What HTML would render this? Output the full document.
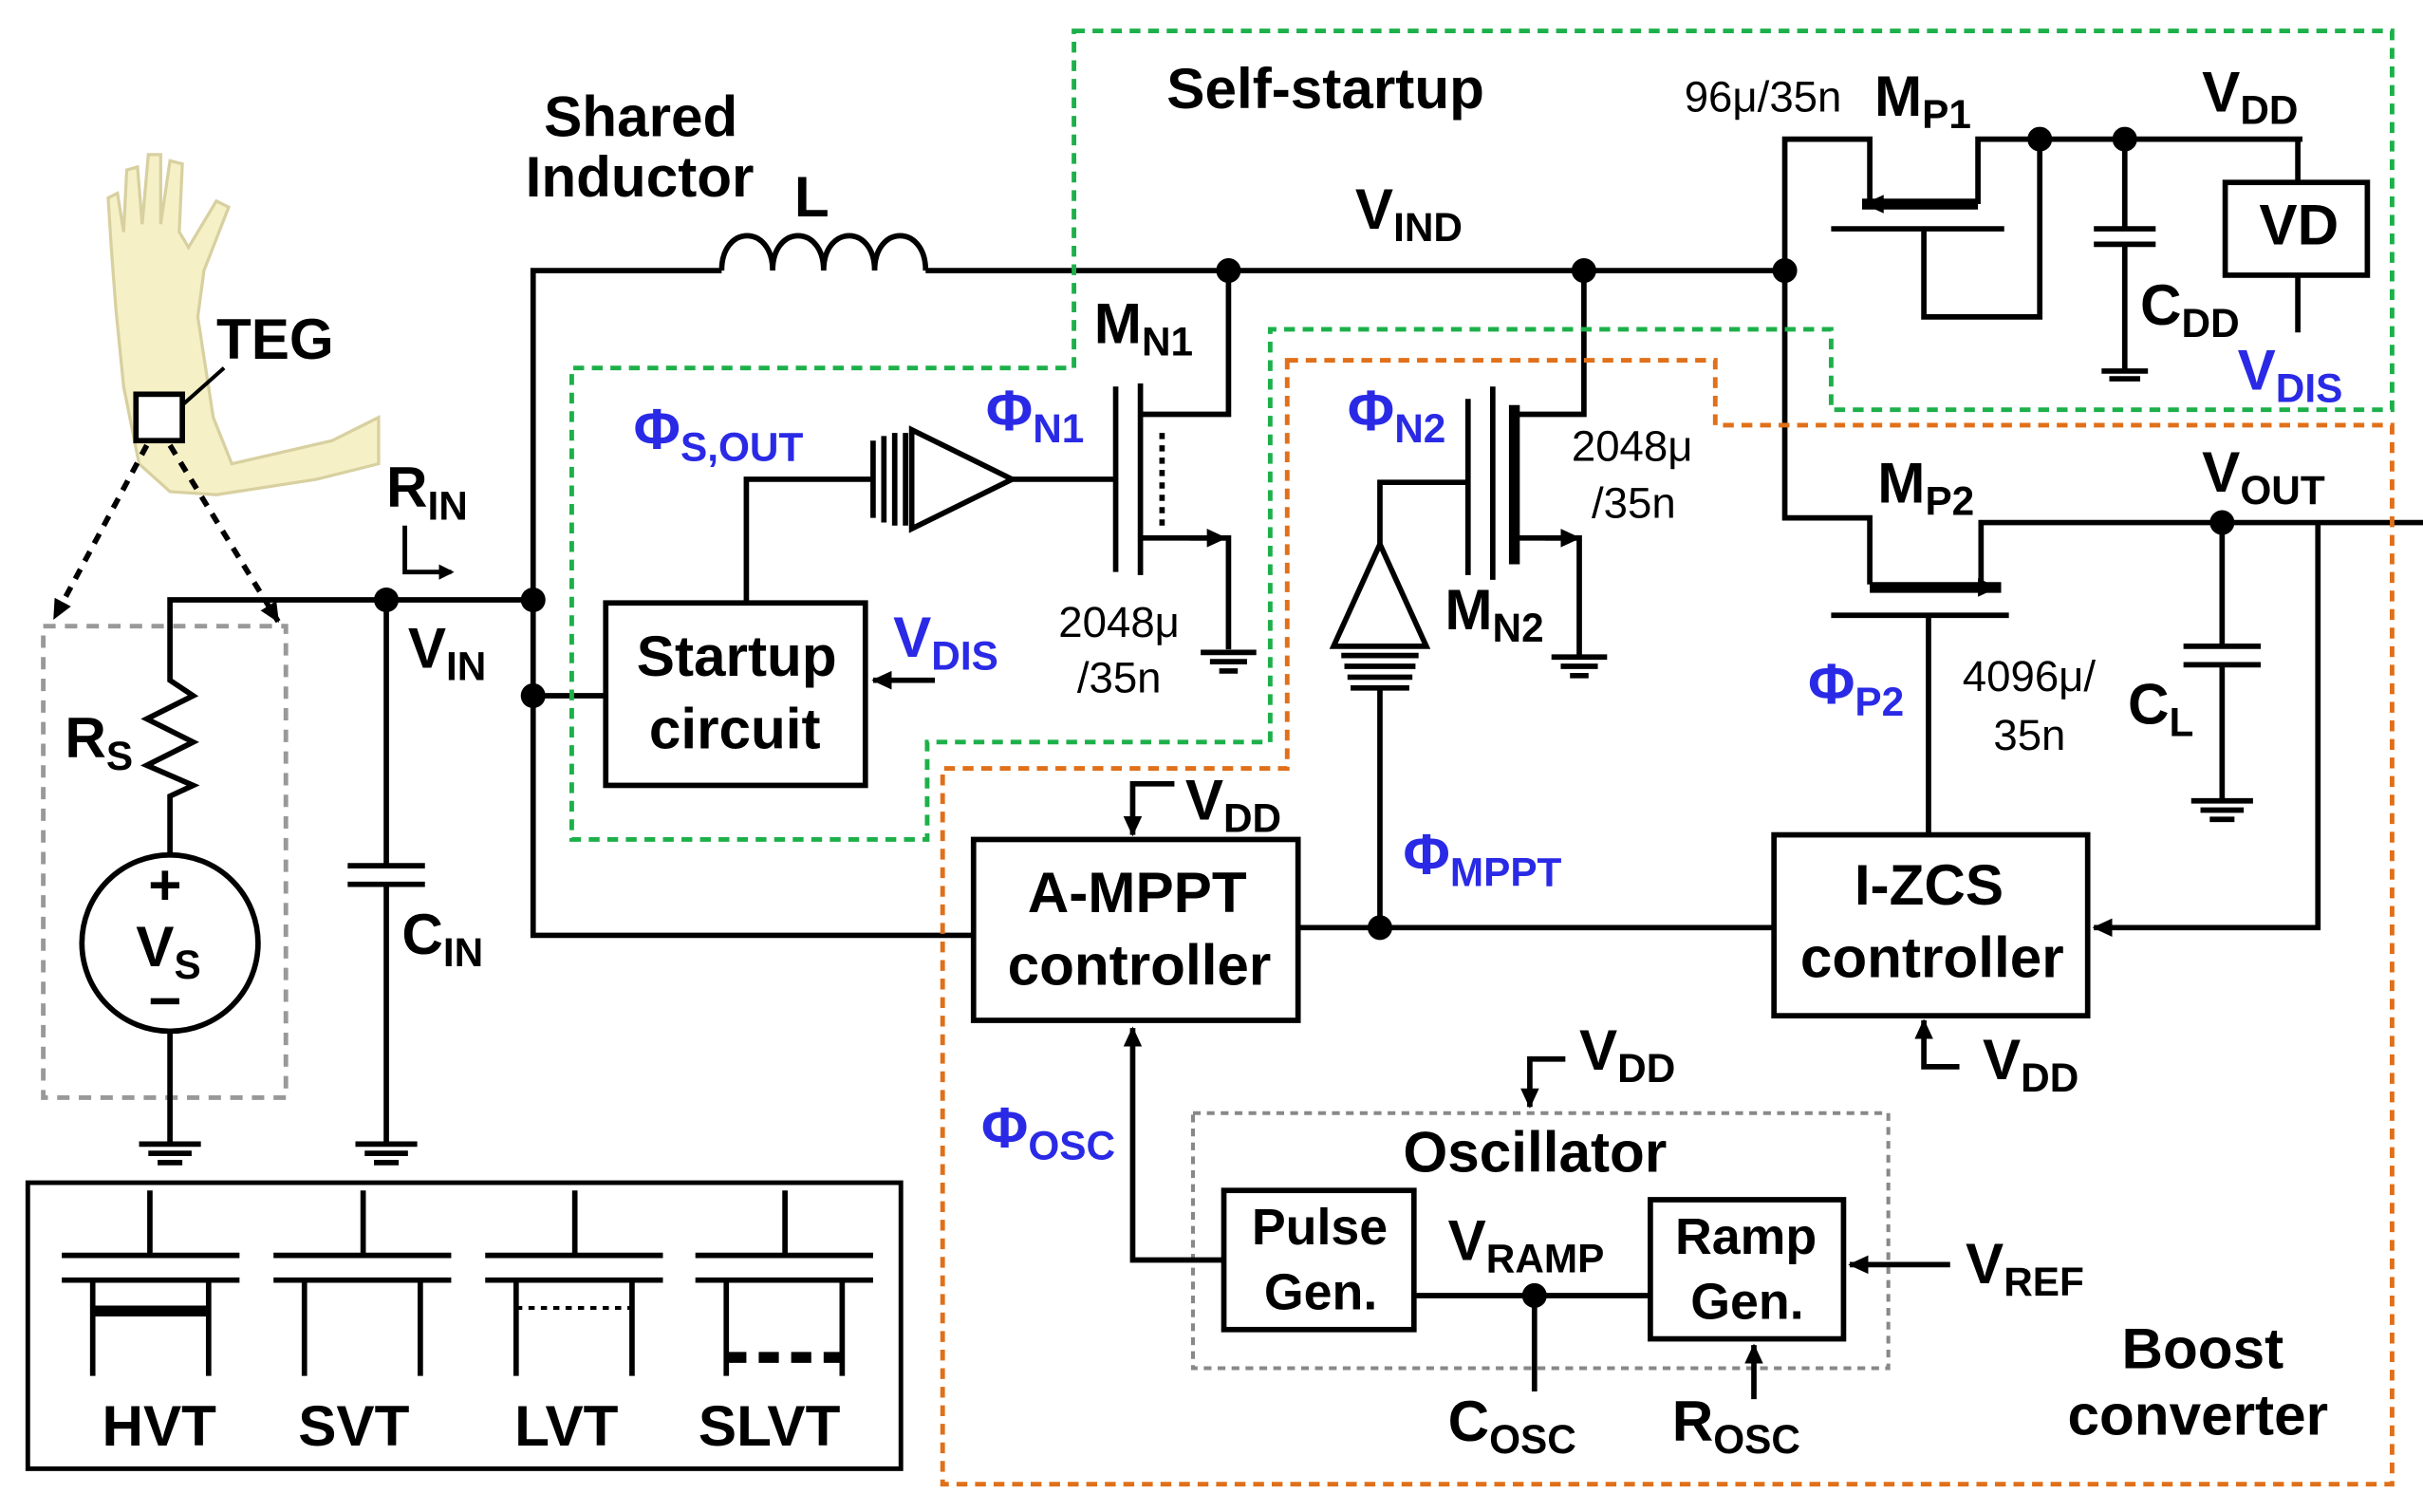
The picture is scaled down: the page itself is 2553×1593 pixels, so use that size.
<!DOCTYPE html>
<html><head><meta charset="utf-8"><style>
html,body{margin:0;padding:0;background:#fff}
svg{display:block}
text{font-family:"Liberation Sans",Arial,sans-serif;font-weight:bold;fill:#000}
.b{fill:#2a2ae6}
.n{font-weight:normal}
</style></head><body>
<svg width="2553" height="1593" viewBox="0 0 1568 978" preserveAspectRatio="none" xmlns="http://www.w3.org/2000/svg">
<defs>
<marker id="ar" markerWidth="10" markerHeight="10" refX="8" refY="5" orient="auto" markerUnits="userSpaceOnUse"><path d="M0,0 L10,5 L0,10 z" fill="#000"/></marker>
<marker id="arw" markerWidth="14" markerHeight="14" refX="12" refY="7" orient="auto" markerUnits="userSpaceOnUse"><path d="M0,1 L13,7 L0,13 z" fill="#000"/></marker>
</defs>
<g fill="none" stroke="#000" stroke-width="3.5">
<!-- arm -->
<path d="M72,160 L70,128 L76,125 L80,150 L82,110 L89,108 L92,145 L96,100 L104,100 L104,145 L110,104 L118,106 L116,150 L122,160 L140,130 L148,134 L132,175 L128,205 L138,270 L150,300 L215,285 L245,270 L245,300 L205,310 L140,320 L110,318 L90,300 L80,250 L75,200 Z" fill="#f5f0c6" stroke="#d8d0a0" stroke-width="2"/>
<rect x="88" y="255" width="30" height="30" fill="#fff"/>
<line x1="118" y1="262" x2="145" y2="238" stroke-width="2.5"/>
<line x1="95" y1="288" x2="35" y2="400" stroke-dasharray="7,6" marker-end="url(#arw)"/>
<line x1="110" y1="288" x2="180" y2="402" stroke-dasharray="7,6" marker-end="url(#arw)"/>
<rect x="28" y="405" width="157" height="305" stroke="#999" stroke-width="3" stroke-dasharray="8,6"/>
<polyline points="345,388 110,388 110,440 125,450 95,465 125,480 95,495 125,508 110,515 110,553"/>
<circle cx="110" cy="610" r="57"/>
<line x1="110" y1="667" x2="110" y2="740"/>
<line x1="90" y1="740" x2="130" y2="740"/><line x1="96" y1="746" x2="124" y2="746"/><line x1="102" y1="752" x2="118" y2="752"/>
<line x1="250" y1="388" x2="250" y2="560"/><line x1="225" y1="560" x2="275" y2="560"/><line x1="225" y1="572" x2="275" y2="572"/>
<line x1="250" y1="572" x2="250" y2="740"/>
<line x1="230" y1="740" x2="270" y2="740"/><line x1="236" y1="746" x2="264" y2="746"/><line x1="242" y1="752" x2="258" y2="752"/>
<polyline points="262,340 262,370 292,370" stroke-width="3" marker-end="url(#ar)"/>
<polyline points="630,605 345,605 345,175 467,175"/>
<path d="M467,175 C467,145 500,145 500,175 C500,145 533,145 533,175 C533,145 566,145 566,175 C566,145 599,145 599,175"/>
<line x1="599" y1="175" x2="1155" y2="175"/>
<line x1="345" y1="450" x2="392" y2="450"/>
<rect x="392" y="390" width="168" height="118"/>
<line x1="605" y1="440" x2="565" y2="440" marker-end="url(#arw)"/>
<polyline points="483,390 483,310 565,310"/>
<line x1="565" y1="285" x2="565" y2="335"/><line x1="572" y1="282" x2="572" y2="338"/><line x1="579" y1="280" x2="579" y2="340"/><line x1="586" y1="280" x2="586" y2="340"/>
<polygon points="590,278 655,310 590,342"/>
<line x1="655" y1="310" x2="722" y2="310"/>
<line x1="722" y1="250" x2="722" y2="370"/><line x1="738" y1="248" x2="738" y2="372"/>
<polyline points="738,268 795,268 795,175"/>
<polyline points="738,348 795,348 795,420"/>
<line x1="770" y1="348" x2="793" y2="348" marker-end="url(#arw)"/>
<line x1="752" y1="280" x2="752" y2="340" stroke-dasharray="4,4"/>
<line x1="777" y1="422" x2="813" y2="422"/><line x1="783" y1="428" x2="807" y2="428"/><line x1="789" y1="434" x2="801" y2="434"/>
<line x1="950" y1="258" x2="950" y2="372"/><line x1="966" y1="250" x2="966" y2="375"/><line x1="980" y1="262" x2="980" y2="365" stroke-width="7"/>
<polyline points="980,268 1025,268 1025,175"/>
<polyline points="980,348 1022,348 1022,425"/>
<line x1="1000" y1="348" x2="1022" y2="348" marker-end="url(#arw)"/>
<line x1="1004" y1="425" x2="1040" y2="425"/><line x1="1010" y1="431" x2="1034" y2="431"/><line x1="1016" y1="437" x2="1028" y2="437"/>
<polyline points="950,312 893,312 893,352"/>
<polygon points="893,352 863,418 923,418"/>
<line x1="868" y1="424" x2="918" y2="424"/><line x1="870" y1="431" x2="916" y2="431"/><line x1="872" y1="438" x2="914" y2="438"/><line x1="874" y1="445" x2="912" y2="445"/>
<line x1="893" y1="445" x2="893" y2="600"/>
<rect x="630" y="543" width="210" height="117"/>
<rect x="1148" y="540" width="203" height="117"/>
<line x1="840" y1="600" x2="1148" y2="600"/>
<polyline points="760,507 733,507 733,540" marker-end="url(#arw)"/>
<polyline points="1268,690 1245,690 1245,660" marker-end="url(#arw)"/>
<polyline points="1155,175 1155,90 1210,90 1210,135"/>
<line x1="1205" y1="132" x2="1280" y2="132" stroke-width="7"/>
<line x1="1185" y1="148" x2="1297" y2="148"/>
<polyline points="1280,132 1280,90 1490,90"/>
<line x1="1230" y1="132" x2="1207" y2="132" marker-end="url(#arw)"/>
<polyline points="1245,148 1245,205 1320,205 1320,90"/>
<line x1="1375" y1="90" x2="1375" y2="148"/><line x1="1355" y1="148" x2="1395" y2="148"/><line x1="1355" y1="158" x2="1395" y2="158"/>
<line x1="1375" y1="158" x2="1375" y2="240"/>
<line x1="1360" y1="240" x2="1390" y2="240"/><line x1="1365" y1="245" x2="1385" y2="245"/>
<rect x="1440" y="118" width="92" height="60"/>
<line x1="1487" y1="90" x2="1487" y2="118"/><line x1="1487" y1="178" x2="1487" y2="215"/>
<polyline points="1155,175 1155,335 1210,335 1210,378"/>
<line x1="1210" y1="380" x2="1295" y2="380" stroke-width="7"/>
<line x1="1185" y1="398" x2="1300" y2="398"/>
<polyline points="1282,380 1282,338 1568,338"/>
<line x1="1260" y1="380" x2="1292" y2="380" marker-end="url(#arw)"/>
<line x1="1248" y1="398" x2="1248" y2="540"/>
<line x1="1438" y1="338" x2="1438" y2="418"/><line x1="1413" y1="418" x2="1463" y2="418"/><line x1="1413" y1="430" x2="1463" y2="430"/>
<line x1="1438" y1="430" x2="1438" y2="518"/>
<line x1="1418" y1="518" x2="1458" y2="518"/><line x1="1424" y1="524" x2="1452" y2="524"/><line x1="1430" y1="530" x2="1446" y2="530"/>
<polyline points="1500,338 1500,600 1355,600" marker-end="url(#arw)"/>
<rect x="772" y="720" width="450" height="165" stroke="#888" stroke-width="2.5" stroke-dasharray="5,4"/>
<polyline points="1013,685 990,685 990,716" marker-end="url(#arw)"/>
<rect x="792" y="770" width="123" height="90"/>
<rect x="1068" y="776" width="125" height="90"/>
<line x1="915" y1="838" x2="1068" y2="838"/>
<line x1="993" y1="838" x2="993" y2="900"/>
<line x1="1262" y1="818" x2="1197" y2="818" marker-end="url(#arw)"/>
<line x1="1135" y1="905" x2="1135" y2="870" marker-end="url(#arw)"/>
<polyline points="792,815 733,815 733,665" marker-end="url(#arw)"/>
<polygon points="695,20 1548,20 1548,265 1185,265 1185,213 822,213 822,480 600,480 600,543 370,543 370,238 695,238" stroke="#1db04a" stroke-width="3" stroke-dasharray="7,5"/>
<polygon points="833,233 1110,233 1110,275 1548,275 1548,960 610,960 610,497 833,497" stroke="#e0701a" stroke-width="3" stroke-dasharray="7,5"/>
<rect x="18" y="765" width="565" height="185" stroke-width="3"/>
<g>
<line x1="97" y1="770" x2="97" y2="812"/><line x1="40" y1="812" x2="155" y2="812"/><line x1="40" y1="828" x2="155" y2="828"/>
<line x1="60" y1="828" x2="60" y2="890"/><line x1="135" y1="828" x2="135" y2="890"/><line x1="60" y1="848" x2="135" y2="848" stroke-width="7"/>
<line x1="235" y1="770" x2="235" y2="812"/><line x1="177" y1="812" x2="292" y2="812"/><line x1="177" y1="828" x2="292" y2="828"/>
<line x1="197" y1="828" x2="197" y2="890"/><line x1="272" y1="828" x2="272" y2="890"/>
<line x1="372" y1="770" x2="372" y2="812"/><line x1="314" y1="812" x2="429" y2="812"/><line x1="314" y1="828" x2="429" y2="828"/>
<line x1="334" y1="828" x2="334" y2="890"/><line x1="409" y1="828" x2="409" y2="890"/><line x1="334" y1="846" x2="409" y2="846" stroke-width="2.5" stroke-dasharray="4,4"/>
<line x1="508" y1="770" x2="508" y2="812"/><line x1="450" y1="812" x2="565" y2="812"/><line x1="450" y1="828" x2="565" y2="828"/>
<line x1="470" y1="828" x2="470" y2="890"/><line x1="545" y1="828" x2="545" y2="890"/><line x1="470" y1="878" x2="545" y2="878" stroke-width="7" stroke-dasharray="13,8"/>
</g>
</g>
<g fill="#000">
<circle cx="250" cy="388" r="8"/><circle cx="345" cy="388" r="8"/><circle cx="345" cy="450" r="8"/>
<circle cx="795" cy="175" r="8"/><circle cx="1025" cy="175" r="8"/><circle cx="1155" cy="175" r="8"/>
<circle cx="1320" cy="90" r="8"/><circle cx="1375" cy="90" r="8"/><circle cx="1438" cy="338" r="8"/>
<circle cx="893" cy="600" r="8"/><circle cx="993" cy="838" r="8"/>
</g>
<g font-size="37">
<text x="140" y="232">TEG</text>
<text x="352" y="88">Shared</text><text x="340" y="127">Inductor</text>
<text x="514" y="140">L</text>
<text x="755" y="70">Self-startup</text>
<text x="250" y="328">R<tspan font-size="26" dy="8">IN</tspan></text>
<text x="264" y="432">V<tspan font-size="26" dy="8">IN</tspan></text>
<text x="42" y="490">R<tspan font-size="26" dy="8">S</tspan></text>
<text x="96" y="585">+</text>
<text x="88" y="625">V<tspan font-size="26" dy="8">S</tspan></text>
<text x="96" y="660">−</text>
<text x="260" y="617">C<tspan font-size="26" dy="8">IN</tspan></text>
<text x="412" y="437">Startup</text><text x="420" y="484">circuit</text>
<text class="b" x="578" y="425">V<tspan font-size="26" dy="8">DIS</tspan></text>
<text class="b" x="410" y="290">Φ<tspan font-size="26" dy="8">S,OUT</tspan></text>
<text class="b" x="638" y="278">Φ<tspan font-size="26" dy="8">N1</tspan></text>
<text x="708" y="222">M<tspan font-size="26" dy="8">N1</tspan></text>
<text class="b" x="872" y="278">Φ<tspan font-size="26" dy="8">N2</tspan></text>
<text x="935" y="407">M<tspan font-size="26" dy="8">N2</tspan></text>
<text x="877" y="148">V<tspan font-size="26" dy="8">IND</tspan></text>
<text x="1213" y="75">M<tspan font-size="26" dy="8">P1</tspan></text>
<text x="1425" y="72">V<tspan font-size="26" dy="8">DD</tspan></text>
<text x="1462" y="158">VD</text>
<text x="1385" y="210">C<tspan font-size="26" dy="8">DD</tspan></text>
<text class="b" x="1448" y="252">V<tspan font-size="26" dy="8">DIS</tspan></text>
<text x="1215" y="325">M<tspan font-size="26" dy="8">P2</tspan></text>
<text x="1425" y="318">V<tspan font-size="26" dy="8">OUT</tspan></text>
<text x="1377" y="468">C<tspan font-size="26" dy="8">L</tspan></text>
<text class="b" x="1170" y="455">Φ<tspan font-size="26" dy="8">P2</tspan></text>
<text x="665" y="590">A-MPPT</text><text x="652" y="637">controller</text>
<text x="1200" y="585">I-ZCS</text><text x="1165" y="632">controller</text>
<text x="767" y="530">V<tspan font-size="26" dy="8">DD</tspan></text>
<text x="1283" y="698">V<tspan font-size="26" dy="8">DD</tspan></text>
<text x="1022" y="692">V<tspan font-size="26" dy="8">DD</tspan></text>
<text class="b" x="908" y="565">Φ<tspan font-size="26" dy="8">MPPT</tspan></text>
<text class="b" x="635" y="742">Φ<tspan font-size="26" dy="8">OSC</tspan></text>
<text x="908" y="758">Oscillator</text>
<text x="810" y="805" font-size="33">Pulse</text><text x="818" y="847" font-size="33">Gen.</text>
<text x="1084" y="811" font-size="33">Ramp</text><text x="1094" y="853" font-size="33">Gen.</text>
<text x="937" y="815">V<tspan font-size="26" dy="8">RAMP</tspan></text>
<text x="1272" y="830">V<tspan font-size="26" dy="8">REF</tspan></text>
<text x="937" y="932">C<tspan font-size="26" dy="8">OSC</tspan></text>
<text x="1082" y="932">R<tspan font-size="26" dy="8">OSC</tspan></text>
<text x="1373" y="885">Boost</text><text x="1338" y="928">converter</text>
<text x="66" y="935">HVT</text><text x="193" y="935">SVT</text><text x="333" y="935">LVT</text><text x="452" y="935">SLVT</text>
</g>
<g font-size="28">
<text class="n" x="1090" y="72">96μ/35n</text>
<text class="n" x="685" y="412">2048μ</text><text class="n" x="697" y="448">/35n</text>
<text class="n" x="1017" y="298">2048μ</text><text class="n" x="1030" y="335">/35n</text>
<text class="n" x="1270" y="447">4096μ/</text><text class="n" x="1290" y="485">35n</text>
</g>
</svg>
</body></html>
